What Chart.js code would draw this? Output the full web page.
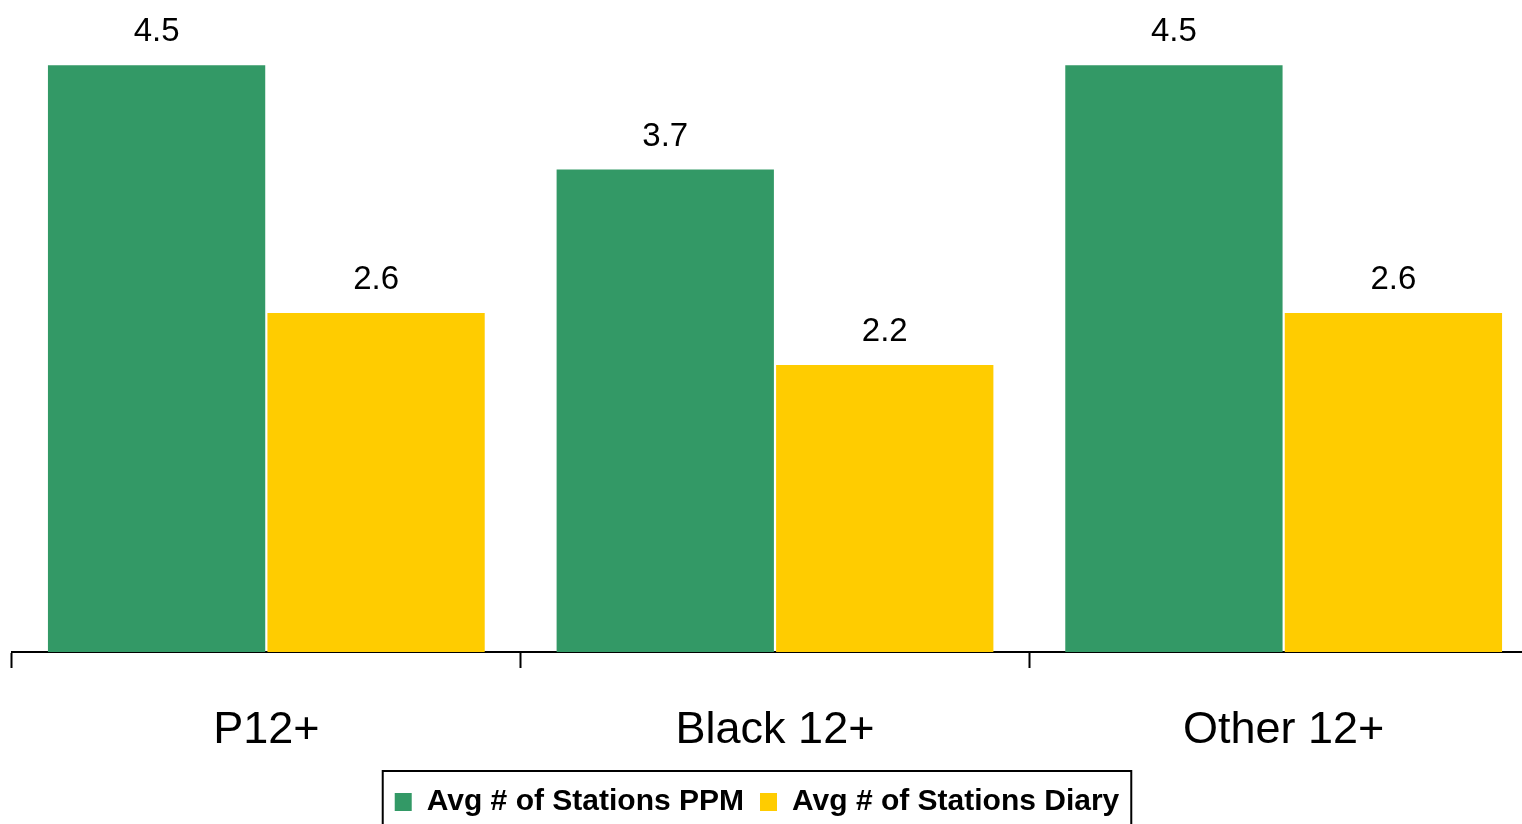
<!DOCTYPE html>
<html>
<head>
<meta charset="utf-8">
<title>Avg # of Stations</title>
<script src="https://cdn.jsdelivr.net/npm/chart.js@4.4.1/dist/chart.umd.min.js"></script>
<style>
    html, body {
        margin: 0;
        padding: 0;
        background: #fff;
        overflow: hidden;
    }
    #wrap {
        width: 1540px;
        height: 824px;
    }
</style>
</head>
<body>
<div id="wrap">
    <canvas id="stationsChart" width="1540" height="824"></canvas>
</div>
<script>
// 数据
const categories = ['P12+', 'Black 12+', 'Other 12+'];
const seriesNames = ['Avg # of Stations PPM', 'Avg # of Stations Diary'];
const ppmValues = [4.5, 3.7, 4.5];
const diaryValues = [2.6, 2.2, 2.6];

const GREEN = '#339966';
const YELLOW = '#FFCC00';
const FONT = "'Liberation Sans', Arial, sans-serif";

// 柱顶数值标签
const valueLabels = {
    id: 'valueLabels',
    afterDatasetsDraw(chart) {
        const ctx = chart.ctx;
        ctx.save();
        ctx.font = '33px ' + FONT;
        ctx.fillStyle = '#000';
        ctx.textAlign = 'center';
        ctx.textBaseline = 'alphabetic';
        chart.data.datasets.forEach((ds, i) => {
            chart.getDatasetMeta(i).data.forEach((bar, j) => {
                ctx.fillText(ds.data[j].toFixed(1), bar.x, bar.y - 24);
            });
        });
        ctx.restore();
    }
};

// 图例稍微左移、下移，并加边框
const legendFrame = {
    id: 'legendFrame',
    afterUpdate(chart) {
        const lg = chart.legend;
        lg.left -= 18;
        lg.right -= 18;
        lg.top += 3;
        lg.bottom += 3;
        lg.adjustHitBoxes();
    },
    afterDraw(chart) {
        const boxes = chart.legend.legendHitBoxes;
        if (!boxes || !boxes.length) return;
        const last = boxes[boxes.length - 1];
        const left = boxes[0].left - 12;
        const right = last.left + last.width + 12;
        const top = chart.legend.top;
        const ctx = chart.ctx;
        ctx.save();
        ctx.strokeStyle = '#000';
        ctx.lineWidth = 2;
        ctx.strokeRect(left, top, right - left, 80);
        ctx.restore();
    }
};

function createChart() {
    return new Chart(document.getElementById('stationsChart'), {
        type: 'bar',
        data: {
            labels: categories,
            datasets: [{
                label: seriesNames[0],
                data: ppmValues,
                backgroundColor: GREEN
            }, {
                label: seriesNames[1],
                data: diaryValues,
                backgroundColor: YELLOW
            }]
        },
        options: {
            responsive: false,
            animation: false,
            categoryPercentage: 0.863,
            barPercentage: 0.99,
            layout: {
                padding: { left: 12, right: 2, top: 0, bottom: 0 }
            },
            plugins: {
                legend: {
                    position: 'bottom',
                    labels: {
                        boxWidth: 17,
                        boxHeight: 18,
                        padding: 16,
                        color: '#000',
                        font: { family: FONT, size: 30, weight: 'bold' }
                    }
                },
                tooltip: { enabled: false }
            },
            scales: {
                y: {
                    display: false,
                    min: 0,
                    max: 5
                },
                x: {
                    afterFit(scale) {
                        scale.height = 116;
                    },
                    border: {
                        display: true,
                        color: '#000',
                        width: 2
                    },
                    grid: {
                        display: true,
                        offset: true,
                        drawOnChartArea: false,
                        drawTicks: true,
                        tickLength: 16,
                        tickWidth: 2,
                        tickColor: '#000'
                    },
                    ticks: {
                        padding: 36,
                        color: '#000',
                        font: { family: FONT, size: 45 }
                    }
                }
            }
        },
        plugins: [valueLabels, legendFrame]
    });
}

document.addEventListener('DOMContentLoaded', createChart);
</script>
</body>
</html>
